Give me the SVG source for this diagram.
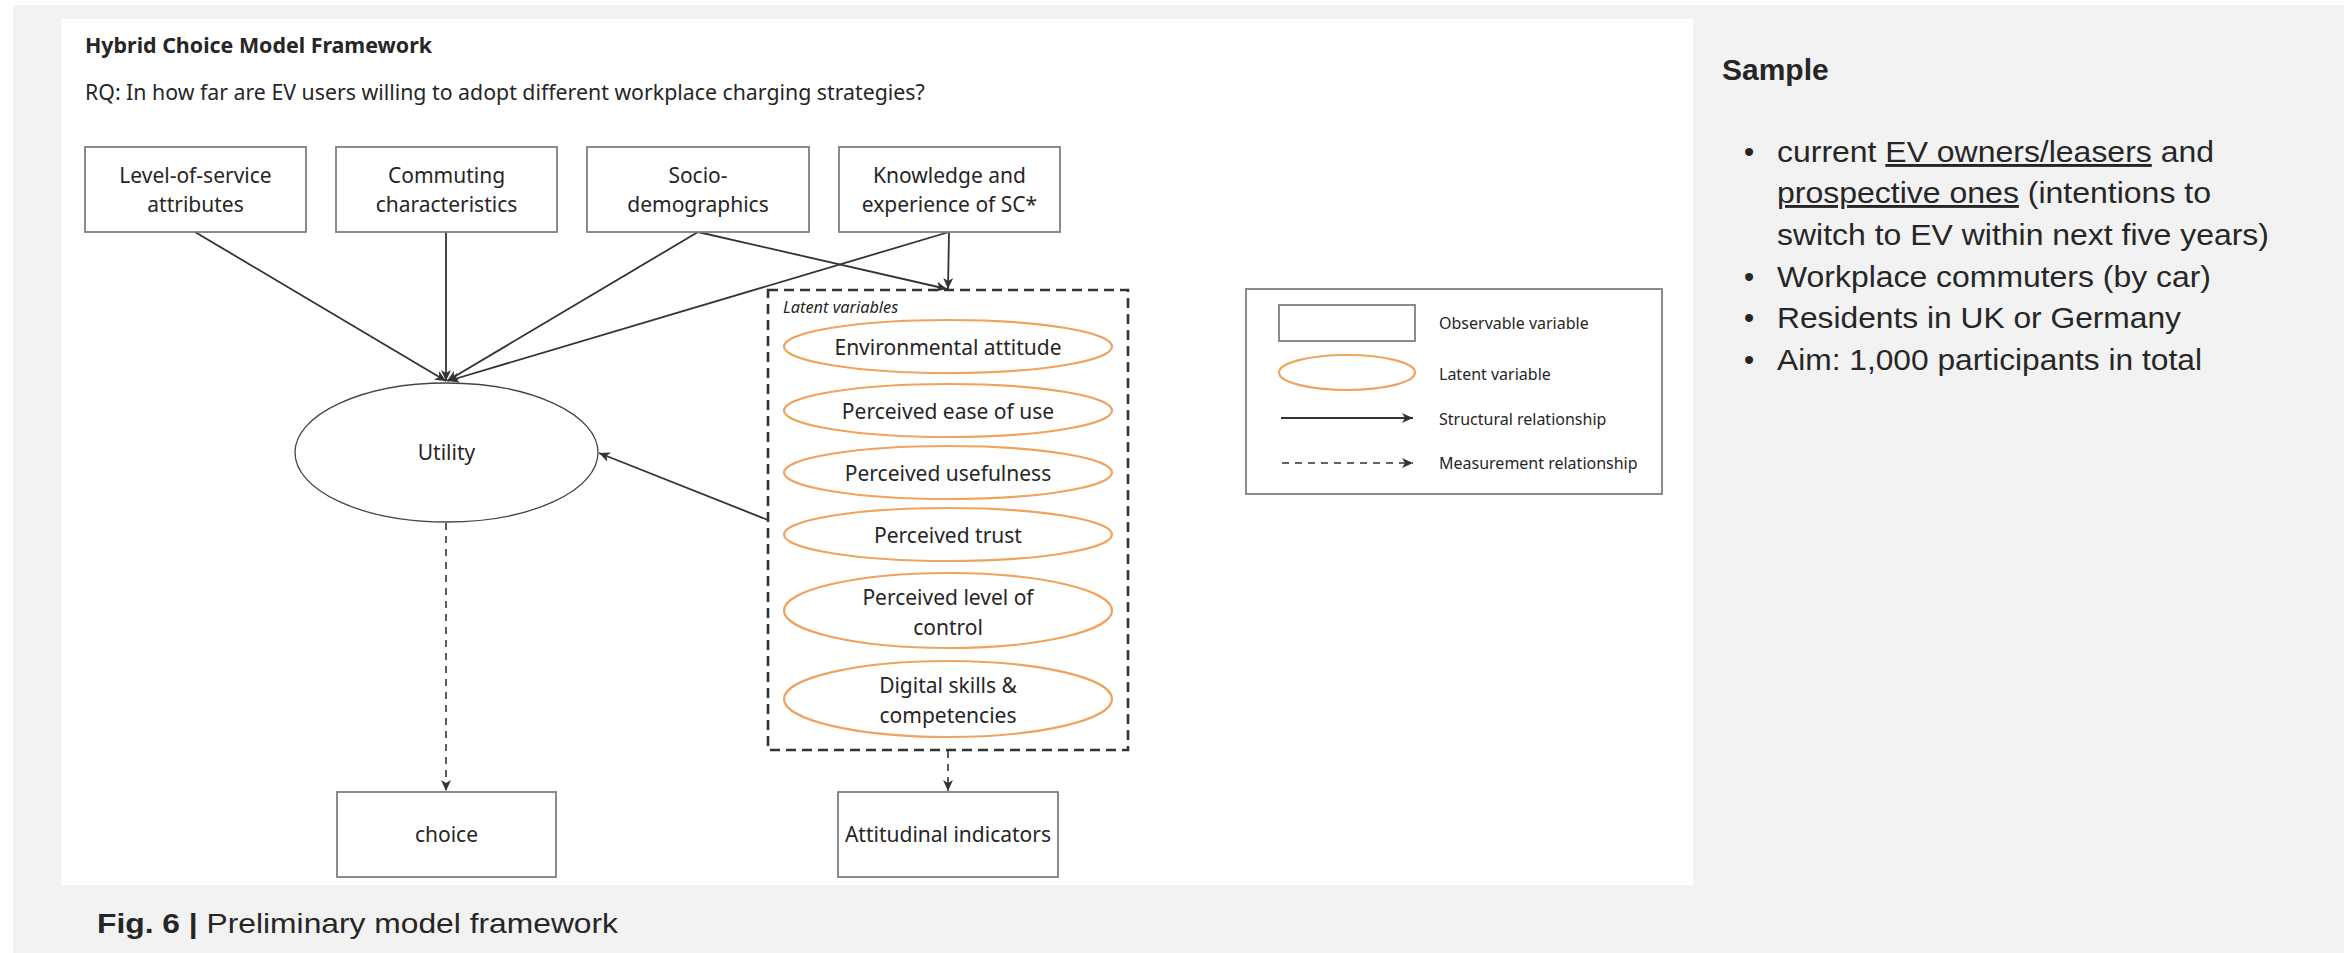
<svg xmlns="http://www.w3.org/2000/svg" width="2344" height="953" viewBox="0 0 2344 953">
<style>
.t{font-family:"Noto Sans","Open Sans",sans-serif;fill:#262626}
.n{font-size:21px;text-anchor:middle}
.lg{font-size:16px}
.a{font-family:"Liberation Sans",Arial,sans-serif;fill:#262626}
.box{fill:#fff;stroke:#7f7f7f;stroke-width:1.8}
.lat{fill:#fff;stroke:#f0a35e;stroke-width:2.2}
.c{stroke:#333;stroke-width:1.8;fill:none}
.d{stroke:#333;stroke-width:1.6;fill:none;stroke-dasharray:7 6}
</style>
<defs>
<marker id="ah" markerUnits="userSpaceOnUse" markerWidth="14" markerHeight="12" refX="11" refY="5" orient="auto">
<path d="M0,0 L11,5 L0,10 L3,5 Z" fill="#333"/>
</marker>
</defs>
<rect x="0" y="0" width="2344" height="953" fill="#fff"/>
<rect x="13" y="5" width="2331" height="948" fill="#f2f2f2"/>
<rect x="61" y="19" width="1632" height="866" fill="#fff"/>

<text class="t" x="85" y="53" font-size="21.4" font-weight="bold">Hybrid Choice Model Framework</text>
<text class="t" x="85" y="100" font-size="21.3">RQ: In how far are EV users willing to adopt different workplace charging strategies?</text>

<g id="connectors">
<line class="c" x1="195" y1="232" x2="446" y2="381" marker-end="url(#ah)"/>
<line class="c" x1="446" y1="232" x2="446" y2="381" marker-end="url(#ah)"/>
<line class="c" x1="698" y1="232" x2="447" y2="381" marker-end="url(#ah)"/>
<line class="c" x1="949" y1="232" x2="448" y2="381" marker-end="url(#ah)"/>
<line class="c" x1="698" y1="232" x2="947" y2="289" marker-end="url(#ah)"/>
<line class="c" x1="949" y1="232" x2="948" y2="289" marker-end="url(#ah)"/>
<line class="c" x1="768" y1="520" x2="599" y2="453" marker-end="url(#ah)"/>
<line class="d" x1="446" y1="523" x2="446" y2="791" marker-end="url(#ah)"/>
<line class="d" x1="948" y1="751" x2="948" y2="791" marker-end="url(#ah)"/>
</g>

<g id="n-los"><rect class="box" x="85" y="147" width="221" height="85"/><text class="t n" x="195.5" y="183">Level-of-service</text><text class="t n" x="195.5" y="212">attributes</text></g>
<g id="n-comm"><rect class="box" x="336" y="147" width="221" height="85"/><text class="t n" x="446.5" y="183">Commuting</text><text class="t n" x="446.5" y="212">characteristics</text></g>
<g id="n-socio"><rect class="box" x="587" y="147" width="222" height="85"/><text class="t n" x="698" y="183">Socio-</text><text class="t n" x="698" y="212">demographics</text></g>
<g id="n-know"><rect class="box" x="839" y="147" width="221" height="85"/><text class="t n" x="949.5" y="183">Knowledge and</text><text class="t n" x="949.5" y="212">experience of SC*</text></g>

<g id="n-utility"><ellipse cx="446.5" cy="452.5" rx="151.5" ry="69.5" fill="#fff" stroke="#444" stroke-width="1.3"/><text class="t n" x="446.5" y="460">Utility</text></g>

<g id="n-latent">
<rect x="768" y="290" width="360" height="460" fill="none" stroke="#333" stroke-width="2.6" stroke-dasharray="10 6"/>
<text class="t" x="783" y="313" font-size="16.3" font-style="italic">Latent variables</text>
</g>
<g id="n-env"><ellipse class="lat" cx="948" cy="346.5" rx="164" ry="26.5"/><text class="t n" x="948" y="355">Environmental attitude</text></g>
<g id="n-ease"><ellipse class="lat" cx="948" cy="410.5" rx="164" ry="26.5"/><text class="t n" x="948" y="419">Perceived ease of use</text></g>
<g id="n-useful"><ellipse class="lat" cx="948" cy="472.5" rx="164" ry="26.5"/><text class="t n" x="948" y="481">Perceived usefulness</text></g>
<g id="n-trust"><ellipse class="lat" cx="948" cy="534.5" rx="164" ry="26.5"/><text class="t n" x="948" y="543">Perceived trust</text></g>
<g id="n-control"><ellipse class="lat" cx="948" cy="610.5" rx="164" ry="37.5"/><text class="t n" x="948" y="605">Perceived level of</text><text class="t n" x="948" y="635">control</text></g>
<g id="n-digital"><ellipse class="lat" cx="948" cy="699" rx="164" ry="38"/><text class="t n" x="948" y="693">Digital skills &amp;</text><text class="t n" x="948" y="723">competencies</text></g>

<g id="n-choice"><rect class="box" x="337" y="792" width="219" height="85"/><text class="t n" x="446.5" y="842">choice</text></g>
<g id="n-att"><rect class="box" x="838" y="792" width="220" height="85"/><text class="t n" x="948" y="842">Attitudinal indicators</text></g>

<g id="legend">
<rect x="1246" y="289" width="416" height="205" fill="#fff" stroke="#7f7f7f" stroke-width="1.8"/>
<rect class="box" x="1279" y="305" width="136" height="36"/>
<ellipse class="lat" cx="1347" cy="372.5" rx="68" ry="17.5"/>
<line class="c" x1="1281" y1="418" x2="1413" y2="418" marker-end="url(#ah)"/>
<line class="d" x1="1282" y1="463" x2="1413" y2="463" stroke-dasharray="5 5" marker-end="url(#ah)"/>
<text class="t lg" x="1439" y="329">Observable variable</text>
<text class="t lg" x="1439" y="380">Latent variable</text>
<text class="t lg" x="1439" y="425">Structural relationship</text>
<text class="t lg" x="1439" y="469">Measurement relationship</text>
</g>

<g id="sample">
<text class="a" x="1722" y="80" font-size="30" font-weight="bold">Sample</text>
<g font-size="29">
<text class="a" x="1744" y="162">•</text>
<text class="a" x="1777" y="162" textLength="437" lengthAdjust="spacingAndGlyphs">current <tspan text-decoration="underline">EV owners/leasers</tspan> and</text>
<text class="a" x="1777" y="203" textLength="434" lengthAdjust="spacingAndGlyphs"><tspan text-decoration="underline">prospective ones</tspan> (intentions to</text>
<text class="a" x="1777" y="245" textLength="492" lengthAdjust="spacingAndGlyphs">switch to EV within next five years)</text>
<text class="a" x="1744" y="287">•</text>
<text class="a" x="1777" y="287" textLength="434" lengthAdjust="spacingAndGlyphs">Workplace commuters (by car)</text>
<text class="a" x="1744" y="328">•</text>
<text class="a" x="1777" y="328" textLength="404" lengthAdjust="spacingAndGlyphs">Residents in UK or Germany</text>
<text class="a" x="1744" y="370">•</text>
<text class="a" x="1777" y="370" textLength="425" lengthAdjust="spacingAndGlyphs">Aim: 1,000 participants in total</text>
</g>
</g>

<text class="a" x="97" y="933" font-size="28" textLength="521" lengthAdjust="spacingAndGlyphs"><tspan font-weight="bold">Fig. 6 |</tspan> Preliminary model framework</text>
</svg>
